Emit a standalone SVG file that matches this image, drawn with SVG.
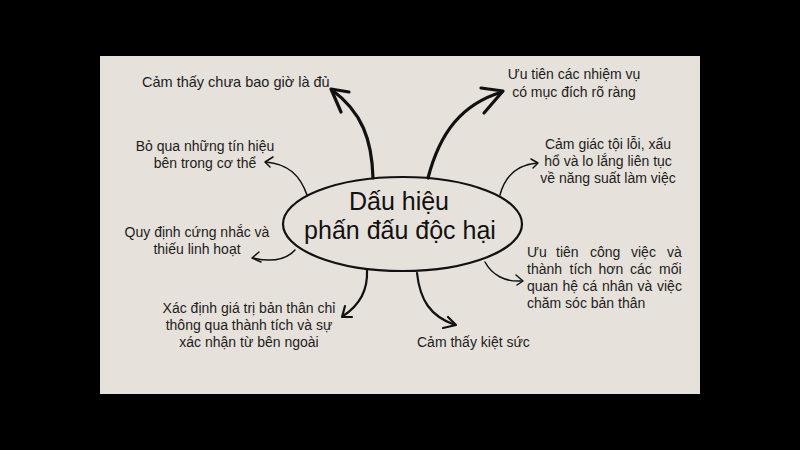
<svg xmlns="http://www.w3.org/2000/svg" width="800" height="450" viewBox="0 0 800 450">
<style>
.t{font-family:"Liberation Sans",Arial,sans-serif;font-size:14px;fill:#1c1c1c}
.c{text-anchor:middle}
.title{font-family:"Liberation Sans",Arial,sans-serif;font-size:25px;fill:#111;text-anchor:middle}
.thick{fill:none;stroke:#111;stroke-width:3.2;stroke-linecap:round;stroke-linejoin:round}
.mid{fill:none;stroke:#111;stroke-width:2.2;stroke-linecap:round;stroke-linejoin:round}
.thin{fill:none;stroke:#111;stroke-width:1.5;stroke-linecap:round;stroke-linejoin:round}
</style>
<rect x="0" y="0" width="800" height="450" fill="#000"/>
<rect x="100" y="56" width="600" height="338" fill="#e6e2db"/>
<g id="connectors">
<path class="thick" d="M373,178 C372,140 362,112 332,90"/>
<path class="thick" d="M349,92 L331,89 L341,112"/>
<path class="thick" d="M428,178 C440,132 462,104 502,92"/>
<path class="thick" d="M481,88 L503,91 L484,113"/>
<path class="thin" d="M307,195 C300,175 288,164 266,162"/>
<path class="thin" d="M273,157 L265,162 L270,167"/>
<path class="thin" d="M295,250 C285,261 270,262 253,258"/>
<path class="thin" d="M259,252 L252,258 L261,262"/>
<path class="mid" d="M367,270 C368,290 360,305 343,316"/>
<path class="mid" d="M345,306 L342,317 L352,317"/>
<path class="mid" d="M417,273 C420,300 430,316 455,325"/>
<path class="mid" d="M448,317 L456,325 L443,328"/>
<path class="thin" d="M500,195 C505,176 516,165 537,163"/>
<path class="thin" d="M531,159 L538,163 L533,168"/>
<path class="thin" d="M485,262 C492,275 505,282 521,281"/>
<path class="thin" d="M516,275 L523,281 L517,285"/>
</g>
<g id="center">
<ellipse cx="402.5" cy="224" rx="119.5" ry="47" fill="none" stroke="#111" stroke-width="2.2"/>
<text class="title" x="399" y="210">Dấu hiệu</text>
<text class="title" x="400" y="239">phấn đấu độc hại</text>
</g>
<g id="n1"><text class="t" x="142" y="87" style="font-size:14.5px">Cảm thấy chưa bao giờ là đủ</text></g>
<g id="n2"><text class="t c" x="205" y="151">Bỏ qua những tín hiệu</text><text class="t c" x="205" y="168">bên trong cơ thể</text></g>
<g id="n3"><text class="t c" x="197" y="237">Quy định cứng nhắc và</text><text class="t c" x="197" y="254">thiếu linh hoạt</text></g>
<g id="n4"><text class="t c" x="249" y="313">Xác định giá trị bản thân chỉ</text><text class="t c" x="249" y="330">thông qua thành tích và sự</text><text class="t c" x="249" y="347">xác nhận từ bên ngoài</text></g>
<g id="n5"><text class="t" x="417" y="347">Cảm thấy kiệt sức</text></g>
<g id="n6"><text class="t c" x="574" y="79">Ưu tiên các nhiệm vụ</text><text class="t c" x="574" y="97">có mục đích rõ ràng</text></g>
<g id="n7"><text class="t c" x="608" y="149">Cảm giác tội lỗi, xấu</text><text class="t c" x="608" y="166">hổ và lo lắng liên tục</text><text class="t c" x="608" y="183">về năng suất làm việc</text></g>
<g id="n8">
<text class="t" y="257"><tspan x="527">Ưu</tspan><tspan x="556">tiên</tspan><tspan x="590">công</tspan><tspan x="631">việc</tspan><tspan x="667">và</tspan></text>
<text class="t" y="274"><tspan x="527">thành</tspan><tspan x="569.5">tích</tspan><tspan x="598.5">hơn</tspan><tspan x="630">các</tspan><tspan x="659">mối</tspan></text>
<text class="t" y="291"><tspan x="527">quan</tspan><tspan x="562.5">hệ</tspan><tspan x="582.5">cá</tspan><tspan x="602">nhân</tspan><tspan x="637.5">và</tspan><tspan x="657">việc</tspan></text>
<text class="t" y="308" x="527">chăm sóc bản thân</text>
</g>
</svg>
